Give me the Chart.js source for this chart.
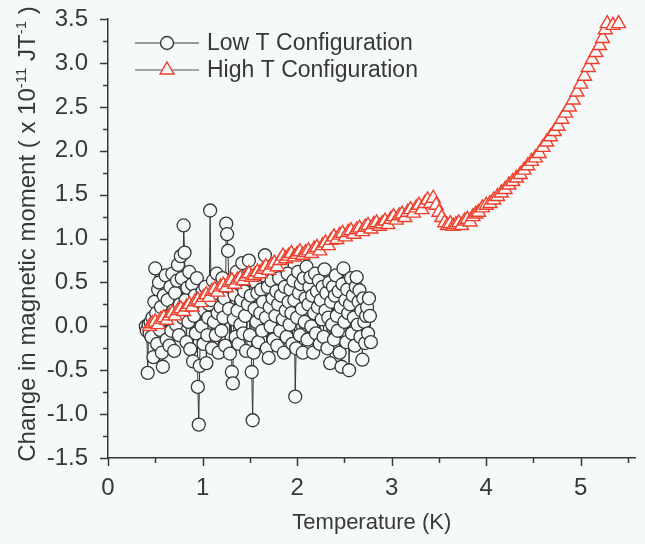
<!DOCTYPE html>
<html>
<head>
<meta charset="utf-8">
<script src="https://cdn.jsdelivr.net/npm/chart.js@4/dist/chart.umd.min.js"></script>
<style>
  html, body { margin: 0; padding: 0; background: #f6f9fa; }
</style>
</head>
<body>
<canvas id="chart" width="645" height="544"></canvas>
<script>
// Low T configuration (circles), temperature in K and moment change
const lowT = [
  0.40,0.41,0.42,0.43,0.44,0.45,0.46,0.47,0.48,0.49,
  0.50,0.51,0.52,0.53,0.54,0.55,0.56,0.57,0.58,0.59,
  0.60,0.61,0.62,0.63,0.64,0.65,0.66,0.67,0.68,0.69,
  0.70,0.71,0.72,0.73,0.74,0.75,0.76,0.77,0.78,0.79,
  0.80,0.81,0.82,0.83,0.84,0.85,0.86,0.87,0.88,0.89,
  0.90,0.91,0.92,0.93,0.94,0.95,0.96,0.97,0.98,0.99,
  1.00,1.01,1.02,1.03,1.04,1.05,1.06,1.07,1.08,1.09,
  1.10,1.11,1.12,1.13,1.14,1.15,1.16,1.17,1.18,1.19,
  1.20,1.21,1.22,1.23,1.24,1.25,1.26,1.27,1.28,1.29,
  1.30,1.31,1.32,1.33,1.34,1.35,1.36,1.37,1.38,1.39,
  1.40,1.41,1.42,1.43,1.44,1.45,1.46,1.47,1.48,1.49,
  1.50,1.51,1.52,1.53,1.54,1.55,1.56,1.57,1.58,1.59,
  1.60,1.61,1.62,1.63,1.64,1.65,1.66,1.67,1.68,1.69,
  1.70,1.71,1.72,1.73,1.74,1.75,1.76,1.77,1.78,1.79,
  1.80,1.81,1.82,1.83,1.84,1.85,1.86,1.87,1.88,1.89,
  1.90,1.91,1.92,1.93,1.94,1.95,1.96,1.97,1.98,1.99,
  2.00,2.01,2.02,2.03,2.04,2.05,2.06,2.07,2.08,2.09,
  2.10,2.11,2.12,2.13,2.14,2.15,2.16,2.17,2.18,2.19,
  2.20,2.21,2.22,2.23,2.24,2.25,2.26,2.27,2.28,2.29,
  2.30,2.31,2.32,2.33,2.34,2.35,2.36,2.37,2.38,2.39,
  2.40,2.41,2.42,2.43,2.44,2.45,2.46,2.47,2.48,2.49,
  2.50,2.51,2.52,2.53,2.54,2.55,2.56,2.57,2.58,2.59,
  2.60,2.61,2.62,2.63,2.64,2.65,2.66,2.67,2.68,2.69,
  2.70,2.71,2.72,2.73,2.74,2.75,2.76,2.77,2.78
];
const lowM = [
  0.00,-0.05,-0.53,0.02,-0.08,0.05,-0.12,0.10,-0.35,0.28,
  0.66,0.15,-0.20,0.42,0.50,-0.04,0.22,-0.30,-0.46,0.35,
  0.08,0.58,-0.15,0.30,0.12,-0.22,0.45,-0.05,0.60,0.18,
  -0.28,0.38,0.02,0.52,0.70,-0.10,0.25,0.80,0.55,0.10,
  1.15,0.84,0.30,-0.18,0.44,0.05,0.62,-0.26,0.20,0.48,
  -0.40,0.12,0.35,-0.08,0.55,-0.69,-1.12,-0.45,0.28,0.00,
  0.40,-0.20,0.18,0.45,-0.42,-0.10,0.10,0.25,1.32,0.30,
  -0.25,0.52,0.05,0.38,-0.10,0.60,0.15,-0.30,0.42,0.22,
  -0.05,0.55,0.10,0.32,-0.22,1.17,1.05,0.86,0.20,-0.31,
  0.45,-0.52,-0.65,0.08,0.36,-0.12,0.62,0.18,-0.20,0.48,
  0.02,0.30,0.72,-0.08,0.40,0.12,-0.28,0.55,0.25,0.75,
  -0.10,0.35,-0.52,-1.07,-0.30,0.20,0.50,0.05,0.38,-0.18,
  0.62,0.15,0.42,-0.05,0.28,0.58,0.81,0.10,-0.25,0.45,
  -0.36,0.22,0.00,0.52,0.32,-0.15,0.65,0.12,0.40,-0.22,
  0.25,0.55,-0.05,0.35,0.70,0.08,-0.30,0.45,0.18,-0.12,
  0.60,0.28,0.02,0.42,0.15,-0.20,0.52,0.30,-0.80,-0.25,
  0.10,0.62,0.38,-0.10,0.48,0.20,-0.30,0.55,0.05,0.32,
  0.68,-0.15,0.25,0.45,0.56,0.00,0.35,-0.30,0.15,0.60,
  -0.08,0.40,0.22,0.52,-0.20,0.30,0.08,0.45,-0.12,0.65,
  0.18,0.38,-0.25,0.10,0.50,-0.42,0.28,0.02,0.45,-0.15,
  0.35,0.58,0.12,-0.05,0.40,-0.30,0.22,-0.46,0.48,0.66,
  0.05,0.30,-0.18,0.42,0.15,-0.50,0.25,0.55,-0.08,0.35,
  0.10,-0.22,0.45,0.56,0.02,0.28,0.41,-0.12,0.18,-0.38,
  0.32,0.05,-0.19,0.12,0.22,-0.08,0.32,0.12,-0.18
];

// High T configuration (triangles)
const highT = [
  0.44,0.47,0.50,0.53,0.56,0.59,0.62,0.65,0.68,0.71,
  0.74,0.77,0.80,0.83,0.86,0.89,0.92,0.95,0.98,1.01,
  1.04,1.07,1.10,1.13,1.16,1.19,1.22,1.25,1.28,1.31,
  1.34,1.37,1.40,1.43,1.46,1.49,1.52,1.55,1.58,1.61,
  1.64,1.67,1.70,1.73,1.76,1.79,1.82,1.85,1.88,1.91,
  1.94,1.97,2.00,2.03,2.06,2.09,2.12,2.15,2.18,2.21,
  2.24,2.27,2.30,2.33,2.36,2.39,2.42,2.45,2.48,2.51,
  2.54,2.57,2.60,2.63,2.66,2.69,2.72,2.75,2.78,2.81,
  2.84,2.87,2.90,2.93,2.96,2.99,3.02,3.05,3.08,3.11,
  3.14,3.17,3.20,3.23,3.26,3.29,3.32,3.35,3.38,3.41,
  3.44,3.47,3.50,3.53,3.56,3.59,3.62,3.65,3.68,3.71,
  3.74,3.77,3.80,3.83,3.86,3.89,3.92,3.96,4.00,4.04,
  4.08,4.12,4.16,4.20,4.24,4.28,4.32,4.36,4.40,4.44,
  4.48,4.52,4.56,4.60,4.64,4.68,4.72,4.76,4.80,4.84,
  4.88,4.92,4.96,5.00,5.04,5.08,5.12,5.16,5.20,5.23,
  5.26,5.28,5.34,5.40
];
const highM = [
  0.00,0.03,0.05,0.02,0.08,0.10,0.07,0.12,0.15,0.12,
  0.18,0.20,0.17,0.22,0.25,0.22,0.28,0.30,0.27,0.33,
  0.36,0.33,0.40,0.42,0.39,0.45,0.47,0.44,0.50,0.52,
  0.48,0.53,0.55,0.52,0.57,0.60,0.56,0.58,0.62,0.60,
  0.65,0.68,0.64,0.70,0.72,0.68,0.75,0.80,0.77,0.80,
  0.83,0.79,0.82,0.85,0.81,0.84,0.86,0.83,0.88,0.90,
  0.86,0.92,0.95,0.92,0.98,1.02,0.99,1.04,1.06,1.02,
  1.07,1.09,1.05,1.10,1.12,1.08,1.13,1.15,1.11,1.16,
  1.18,1.14,1.17,1.20,1.16,1.22,1.25,1.21,1.26,1.28,
  1.24,1.30,1.33,1.29,1.35,1.38,1.33,1.40,1.44,1.40,
  1.46,1.38,1.30,1.24,1.18,1.15,1.17,1.14,1.16,1.18,
  1.15,1.20,1.22,1.19,1.25,1.28,1.30,1.35,1.38,1.40,
  1.44,1.48,1.52,1.56,1.61,1.65,1.69,1.73,1.78,1.83,
  1.88,1.92,1.97,2.04,2.10,2.16,2.22,2.28,2.36,2.43,
  2.50,2.58,2.67,2.76,2.85,2.95,3.04,3.12,3.20,3.28,
  3.38,3.45,3.43,3.45
];

const seriesNames = ['Low T Configuration', 'High T Configuration'];
const xTitle = 'Temperature (K)';

const FONT = "'Liberation Sans', Arial, sans-serif";
const bg = '#f6f9fa';
const ink = '#383838';
const red = '#ef3f2a';

// Function to draw y title with superscripts
function drawYTitle(ctx, cx, cy) {
  const parts = [
    { text: 'Change in magnetic moment ( x 10', size: 24, rise: 0 },
    { text: '-11', size: 15, rise: 9 },
    { text: ' JT', size: 24, rise: 0 },
    { text: '-1', size: 15, rise: 9 },
    { text: ' )', size: 24, rise: 0 },
  ];
  let total = 0;
  parts.forEach((p) => {
    ctx.font = p.size + 'px ' + FONT;
    p.w = ctx.measureText(p.text).width;
    total += p.w;
  });
  ctx.save();
  ctx.translate(cx, cy);
  ctx.rotate(-Math.PI / 2);
  ctx.fillStyle = ink;
  ctx.textBaseline = 'alphabetic';
  ctx.textAlign = 'left';
  let x = -total / 2;
  parts.forEach((p) => {
    ctx.font = p.size + 'px ' + FONT;
    ctx.fillText(p.text, x, 8 - p.rise);
    x += p.w;
  });
  ctx.restore();
}

const decorPlugin = {
  id: 'decor',
  beforeDraw(chart) {
    const ctx = chart.ctx;
    ctx.save();
    ctx.fillStyle = bg;
    ctx.fillRect(0, 0, chart.width, chart.height);
    ctx.restore();
  },
  afterDraw(chart) {
    const ctx = chart.ctx;
    const xs = chart.scales.x;
    const ys = chart.scales.y;
    ctx.save();
    ctx.strokeStyle = ink;
    ctx.lineWidth = 1.5;

    // Tick marks (major and minor)
    xs.ticks.forEach((t) => {
      const px = Math.round(xs.getPixelForValue(t.value)) + 0.5;
      const len = Number.isInteger(t.value) ? 8 : 5;
      ctx.beginPath();
      ctx.moveTo(px, xs.top);
      ctx.lineTo(px, xs.top + len);
      ctx.stroke();
    });
    ys.ticks.forEach((t) => {
      const py = Math.round(ys.getPixelForValue(t.value)) + 0.5;
      const len = Number.isInteger(t.value * 2) ? 8 : 5;
      ctx.beginPath();
      ctx.moveTo(ys.right, py);
      ctx.lineTo(ys.right - len, py);
      ctx.stroke();
    });

    drawYTitle(ctx, 27, 234);

    // Legend
    const rows = [
      { y: 43, style: 'circle', radius: 6.5, color: ink, line: ink, label: seriesNames[0] },
      { y: 70, style: 'triangle', radius: 8, color: red, line: '#555555', label: seriesNames[1] },
    ];
    rows.forEach((r) => {
      ctx.strokeStyle = r.line;
      ctx.lineWidth = 1.2;
      ctx.beginPath();
      ctx.moveTo(135, r.y);
      ctx.lineTo(199, r.y);
      ctx.stroke();
      ctx.fillStyle = bg;
      ctx.strokeStyle = r.color;
      ctx.lineWidth = 1.4;
      Chart.helpers.drawPoint(ctx, { pointStyle: r.style, radius: r.radius, borderWidth: 1.4, rotation: 0 }, 167, r.y);
      ctx.fillStyle = ink;
      ctx.font = '23px ' + FONT;
      ctx.textBaseline = 'middle';
      ctx.textAlign = 'left';
      ctx.fillText(r.label, 207, r.y + 1);
    });
    ctx.restore();
  },
};

const lowPoints = lowT.map((t, i) => ({ x: t, y: lowM[i] }));
const highPoints = highT.map((t, i) => ({ x: t, y: highM[i] }));

const ctx = document.getElementById('chart').getContext('2d');
new Chart(ctx, {
  type: 'scatter',
  data: {
    datasets: [
      {
        label: seriesNames[0],
        data: lowPoints,
        showLine: true,
        tension: 0,
        borderColor: ink,
        borderWidth: 1,
        pointStyle: 'circle',
        pointRadius: 6.5,
        pointBorderWidth: 1.3,
        pointBorderColor: ink,
        pointBackgroundColor: bg,
        clip: false,
        order: 2,
      },
      {
        label: seriesNames[1],
        data: highPoints,
        showLine: true,
        tension: 0,
        borderColor: red,
        borderWidth: 1.3,
        pointStyle: 'triangle',
        pointRadius: 8,
        pointBorderWidth: 1.4,
        pointBorderColor: red,
        pointBackgroundColor: bg,
        clip: false,
        order: 1,
      },
    ],
  },
  options: {
    responsive: false,
    animation: false,
    layout: { padding: { top: 17, right: 0, bottom: 0, left: 0 } },
    plugins: {
      legend: { display: false },
      tooltip: { enabled: false },
    },
    scales: {
      x: {
        type: 'linear',
        min: 0,
        max: 5.58,
        border: { color: ink, width: 1.5 },
        grid: { display: false },
        ticks: {
          stepSize: 0.5,
          includeBounds: false,
          autoSkip: false,
          maxRotation: 0,
          padding: 8,
          color: ink,
          font: { family: FONT, size: 24 },
          callback: (v) => (Number.isInteger(v) ? String(v) : ''),
        },
        title: {
          display: true,
          text: xTitle,
          color: ink,
          font: { family: FONT, size: 22 },
          padding: { top: 0, bottom: 8 },
        },
        afterFit: (s) => { s.height = 86; },
      },
      y: {
        type: 'linear',
        min: -1.5,
        max: 3.5,
        border: { color: ink, width: 1.5 },
        grid: { display: false },
        ticks: {
          stepSize: 0.25,
          autoSkip: false,
          padding: 12,
          color: ink,
          font: { family: FONT, size: 24, lineHeight: 0.6 },
          callback: (v) => (Number.isInteger(v * 2) ? v.toFixed(1) : ''),
        },
        afterFit: (s) => { s.width = 108; },
      },
    },
  },
  plugins: [decorPlugin],
});
</script>
</body>
</html>
